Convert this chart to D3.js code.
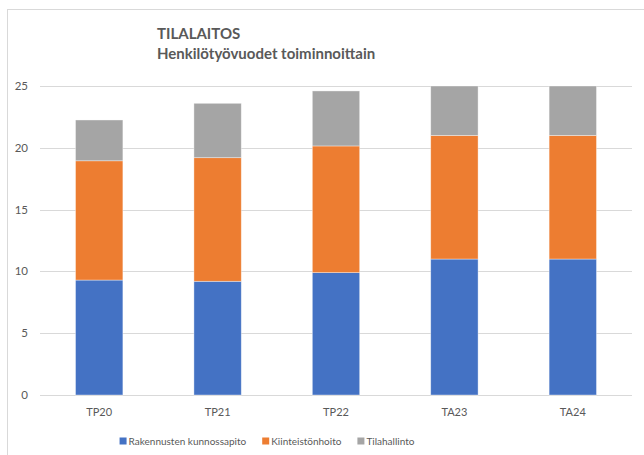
<!DOCTYPE html>
<html>
<head>
<meta charset="utf-8">
<script src="https://cdn.jsdelivr.net/npm/d3@7"></script>
<style>
  body { margin: 0; background: #fff; }
  svg { display: block; font-family: Lato, "Open Sans", sans-serif; }
</style>
</head>
<body>
<div id="vis"></div>
<script>
const categories = ["TP20", "TP21", "TP22", "TA23", "TA24"];
const seriesNames = ["Rakennusten kunnossapito", "Kiinteistönhoito", "Tilahallinto"];
const rakennusten = [9.3, 9.2, 9.9, 11, 11];
const kiinteisto = [9.65, 10.0, 10.25, 10, 10];
const tilahallinto = [3.3, 4.4, 4.45, 4, 4];
const yTicks = [0, 5, 10, 15, 20, 25];
const colors = ["#4472C4", "#ED7D31", "#A5A5A5"];

const width = 644, height = 455;
const margin = { top: 86, right: 12, bottom: 60, left: 40 };

const table = categories.map((c, i) => ({
  cat: c,
  [seriesNames[0]]: rakennusten[i],
  [seriesNames[1]]: kiinteisto[i],
  [seriesNames[2]]: tilahallinto[i]
}));
const stacked = d3.stack().keys(seriesNames)(table);

const svg = d3.select("#vis").append("svg")
  .attr("width", width).attr("height", height);

// chart frame
svg.append("rect")
  .attr("x", 7.5).attr("y", 9.5)
  .attr("width", width + 10).attr("height", height)
  .attr("fill", "none").attr("stroke", "#d9d9d9");

const x = d3.scaleBand()
  .domain(categories)
  .range([margin.left, width - margin.right])
  .paddingInner(0.6).paddingOuter(0.3);

const y = d3.scaleLinear()
  .domain([0, 25])
  .range([height - margin.bottom, margin.top]);

// gridlines
svg.append("g")
  .selectAll("line")
  .data(yTicks)
  .join("line")
  .attr("x1", margin.left).attr("x2", width - margin.right)
  .attr("y1", d => Math.round(y(d)) + 0.5).attr("y2", d => Math.round(y(d)) + 0.5)
  .attr("stroke", "#d9d9d9");

// y labels
svg.append("g")
  .selectAll("text")
  .data(yTicks)
  .join("text")
  .attr("x", 28).attr("y", d => y(d))
  .attr("dy", "0.35em")
  .attr("text-anchor", "end")
  .attr("fill", "#595959")
  .style("font-size", "11.5px")
  .text(d => d);

// bars
svg.append("g")
  .selectAll("g")
  .data(stacked)
  .join("g")
  .attr("fill", (d, i) => colors[i])
  .selectAll("rect")
  .data(d => d)
  .join("rect")
  .attr("x", d => x(d.data.cat))
  .attr("width", x.bandwidth())
  .attr("y", d => y(d[1]))
  .attr("height", d => y(d[0]) - y(d[1]))
  .attr("stroke", "#fff").attr("stroke-opacity", 0.5).attr("stroke-width", 0.75);

// x labels
svg.append("g")
  .selectAll("text")
  .data(categories)
  .join("text")
  .attr("x", d => x(d) + x.bandwidth() / 2)
  .attr("y", 416)
  .attr("text-anchor", "middle")
  .attr("fill", "#595959")
  .style("font-size", "11px")
  .text(d => d);

// title
const title = svg.append("text")
  .attr("x", 157).attr("fill", "#595959")
  .style("font-size", "15px").style("font-weight", "bold");
title.append("tspan").attr("x", 157).attr("y", 39).text("TILALAITOS");
title.append("tspan").attr("x", 157).attr("y", 59).text("Henkilötyövuodet toiminnoittain");

// legend, laid out left to right and centred like the original
const legend = svg.append("g").attr("transform", "translate(0,441)");
const items = legend.selectAll("g")
  .data(seriesNames)
  .join("g");
items.append("rect")
  .attr("x", 0).attr("y", -3.5).attr("width", 7).attr("height", 7)
  .attr("fill", (d, i) => colors[i]);
items.append("text")
  .attr("x", 9).attr("dy", "0.35em")
  .attr("fill", "#595959")
  .style("font-size", "10px")
  .text(d => d);
let pos = 0;
const offsets = [];
items.each(function () {
  offsets.push(pos);
  pos += 9 + d3.select(this).select("text").node().getComputedTextLength() + 16;
});
const total = pos - 16;
const start = 267 - total / 2;
items.attr("transform", (d, i) => `translate(${start + offsets[i]},0)`);
</script>
</body>
</html>
